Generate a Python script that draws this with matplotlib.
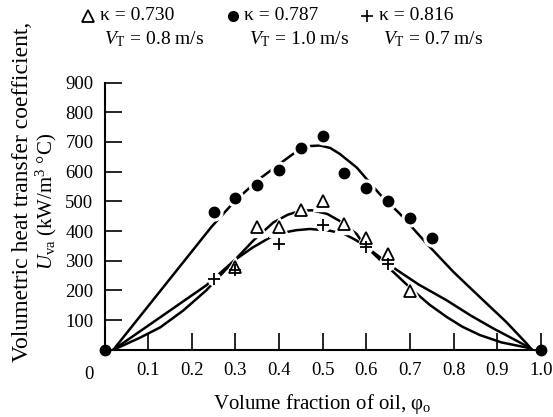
import matplotlib
matplotlib.use('Agg')
from matplotlib import pyplot as plt
from matplotlib.lines import Line2D

plt.rcParams['font.family'] = ['Liberation Serif', 'DejaVu Serif']
plt.rcParams['mathtext.fontset'] = 'custom'
plt.rcParams['mathtext.rm'] = 'Liberation Serif'
plt.rcParams['mathtext.it'] = 'Liberation Serif:italic'

# measured points
phi_730 = [0.30, 0.35, 0.40, 0.45, 0.50, 0.55, 0.60, 0.65, 0.70]
u_730 = [280, 415, 415, 470, 500, 425, 378, 322, 198]

phi_787 = [0.25, 0.30, 0.35, 0.40, 0.45, 0.50, 0.55, 0.60, 0.65, 0.70, 0.75]
u_787 = [465, 510, 555, 605, 680, 720, 595, 545, 500, 445, 378]

phi_816 = [0.25, 0.30, 0.40, 0.50, 0.60, 0.65]
u_816 = [237, 270, 355, 420, 345, 288]

phi_ends = [0.0, 1.0]
u_ends = [0, 0]

# predicted curves
cx_787 = [0.02, 0.22, 0.245, 0.295, 0.35, 0.40, 0.44, 0.467, 0.494, 0.517, 0.539,
          0.578, 0.631, 0.677, 0.742, 0.80, 0.86, 0.92, 0.967, 0.98]
cy_787 = [0, 368, 414, 495, 570, 625, 668, 686, 688, 680, 660,
          614, 524, 458, 352, 262, 178, 95, 22, 0]

cx_730 = [0.02, 0.128, 0.233, 0.299, 0.341, 0.387, 0.42, 0.448, 0.475, 0.51, 0.539,
          0.578, 0.593, 0.63, 0.665, 0.707, 0.745, 0.784, 0.82, 0.86, 0.91, 0.967, 0.98]
cy_730 = [0, 110, 217, 303, 368, 429, 455, 468, 470, 458, 434,
          390, 357, 305, 258, 200, 152, 111, 78, 50, 25, 8, 0]

cx_816 = [0.02, 0.08, 0.128, 0.18, 0.233, 0.299, 0.34, 0.38, 0.403, 0.44, 0.471,
          0.517, 0.55, 0.578, 0.616, 0.631, 0.665, 0.72, 0.784, 0.84, 0.89, 0.93,
          0.967, 0.98]
cy_816 = [0, 40, 76, 132, 200, 303, 345, 379, 393, 403, 407,
          401, 390, 368, 329, 312, 274, 220, 167, 115, 73, 42, 13, 0]

xticks = [0.1, 0.2, 0.3, 0.4, 0.5, 0.6, 0.7, 0.8, 0.9, 1.0]
xticklabels = ['0.1', '0.2', '0.3', '0.4', '0.5', '0.6', '0.7', '0.8', '0.9', '1.0']
yticks = [100, 200, 300, 400, 500, 600, 700, 800, 900]

fig = plt.figure(figsize=(5.53, 4.17), dpi=100)
ax = fig.add_axes([0.189, 0.161, 0.789, 0.641])

lw = 1.8
ax.plot(cx_787, cy_787, color='black', lw=lw, zorder=2)
ax.plot(cx_730, cy_730, color='black', lw=lw, zorder=2)
ax.plot(cx_816, cy_816, color='black', lw=lw, zorder=2)

# white halos so the lines break around the symbols
ax.plot(phi_787, u_787, 'o', color='white', ms=12, zorder=3)
ax.plot(phi_730, u_730, '^', color='white', ms=14, zorder=3)
ax.plot(phi_816, u_816, 'o', color='white', ms=9, zorder=3)

ax.plot(phi_787, u_787, 'o', color='black', ms=7.5, zorder=4)
ax.plot(phi_730, u_730, '^', mfc='white', mec='black', mew=1.3, ms=9, zorder=5)
ax.plot(phi_816, u_816, '+', color='black', mew=1.3, ms=9, zorder=6)
ax.plot(phi_ends, u_ends, 'o', color='black', ms=7.5, zorder=6, clip_on=False)

ax.set_xlim(0, 1.0)
ax.set_ylim(0, 900)
ax.set_xticks(xticks)
ax.set_xticklabels(xticklabels)
ax.set_yticks(yticks)
ax.tick_params(direction='in', length=12, width=1.2, labelsize=13.5, pad=8)
ax.tick_params(axis='x', pad=9)
for s in ['top', 'right']:
    ax.spines[s].set_visible(False)
for s in ['left', 'bottom']:
    ax.spines[s].set_linewidth(1.5)

ax.text(-0.035, -0.062, '0', transform=ax.transAxes, fontsize=13.5,
        ha='center', va='top')

ax.set_xlabel(r'Volume fraction of oil, φ$_{\rm o}$', fontsize=15, labelpad=9)

fig.text(0.04, 0.54, 'Volumetric heat transfer coefficient,', rotation=90,
         fontsize=17, ha='center', va='center')
fig.text(0.083, 0.518, r'$U_{\rm va}$ (kW/m$^3$ °C)', rotation=90,
         fontsize=15, ha='center', va='center')

# legend across the top
leg = [('^', 0.159, 'κ = 0.730', r'$V_{\rm T}$ = 0.8 m/s'),
       ('o', 0.421, 'κ = 0.787', r'$V_{\rm T}$ = 1.0 m/s'),
       ('+', 0.664, 'κ = 0.816', r'$V_{\rm T}$ = 0.7 m/s')]
for m, x, t1, t2 in leg:
    if m == '^':
        fig.add_artist(Line2D([x], [0.962], marker=m, mfc='white', mec='black',
                              mew=1.3, ms=8, transform=fig.transFigure))
    elif m == 'o':
        fig.add_artist(Line2D([x], [0.962], marker=m, color='black', ms=7,
                              transform=fig.transFigure))
    else:
        fig.add_artist(Line2D([x], [0.962], marker=m, color='black', mew=1.2, ms=8,
                              transform=fig.transFigure))
    fig.text(x + 0.021, 0.962, t1, fontsize=14, va='center', ha='left')
    fig.text(x + 0.029, 0.905, t2, fontsize=14, va='center', ha='left')

fig.savefig('out.png', dpi=100)
